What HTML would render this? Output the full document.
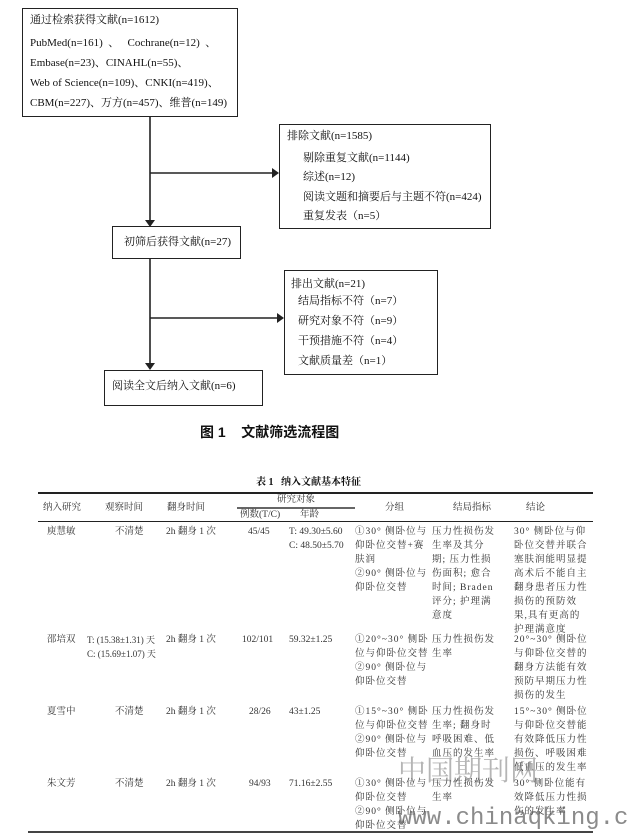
<!DOCTYPE html>
<html><head><meta charset="utf-8"><style>
body{margin:0;width:629px;height:835px;background:#fff;position:relative;overflow:hidden;font-family:"Liberation Serif","Noto Serif CJK SC","Noto Sans CJK SC",serif;color:#111}
.b{position:absolute;border:1px solid #222;box-sizing:border-box}
.t{position:absolute;white-space:nowrap;font-size:11px;line-height:14px}
.s{position:absolute;white-space:nowrap;font-size:9.5px;line-height:14px;color:#333}
.w{letter-spacing:1px}
.hl{position:absolute;background:#222}
</style></head><body>
<div class="b" style="left:22px;top:8px;width:216px;height:109px"></div>
<div class="t" style="left:30px;top:13px">通过检索获得文献(n=1612)</div>
<div class="t" style="left:30px;top:36px">PubMed(n=161)&nbsp;&nbsp;、&nbsp;&nbsp;&nbsp;Cochrane(n=12)&nbsp;&nbsp;、</div>
<div class="t" style="left:30px;top:56px">Embase(n=23)、CINAHL(n=55)、</div>
<div class="t" style="left:30px;top:76px">Web of Science(n=109)、CNKI(n=419)、</div>
<div class="t" style="left:30px;top:96px">CBM(n=227)、万方(n=457)、维普(n=149)</div>
<div class="b" style="left:279px;top:124px;width:212px;height:105px"></div>
<div class="t" style="left:287px;top:129px">排除文献(n=1585)</div>
<div class="t" style="left:303px;top:151px">剔除重复文献(n=1144)</div>
<div class="t" style="left:303px;top:170px">综述(n=12)</div>
<div class="t" style="left:303px;top:190px">阅读文题和摘要后与主题不符(n=424)</div>
<div class="t" style="left:303px;top:209px">重复发表（n=5）</div>
<div class="b" style="left:112px;top:226px;width:129px;height:33px"></div>
<div class="t" style="left:124px;top:235px">初筛后获得文献(n=27)</div>
<div class="b" style="left:284px;top:270px;width:154px;height:105px"></div>
<div class="t" style="left:291px;top:277px">排出文献(n=21)</div>
<div class="t" style="left:298px;top:294px">结局指标不符（n=7）</div>
<div class="t" style="left:298px;top:314px">研究对象不符（n=9）</div>
<div class="t" style="left:298px;top:334px">干预措施不符（n=4）</div>
<div class="t" style="left:298px;top:354px">文献质量差（n=1）</div>
<div class="b" style="left:104px;top:370px;width:159px;height:36px"></div>
<div class="t" style="left:112px;top:379px">阅读全文后纳入文献(n=6)</div>
<svg style="position:absolute;left:0;top:0" width="629" height="420">
<g stroke="#222" stroke-width="1.6" fill="none">
<line x1="150" y1="117" x2="150" y2="222"/><line x1="150" y1="173" x2="273" y2="173"/>
<line x1="150" y1="259" x2="150" y2="365"/><line x1="150" y1="318" x2="278" y2="318"/>
</g>
<g fill="#222"><polygon points="145,220 155,220 150,227"/><polygon points="272,168 272,178 279,173"/>
<polygon points="145,363 155,363 150,370"/><polygon points="277,313 277,323 284,318"/></g>
</svg>
<div class="t" style="left:200px;top:425px;font-size:14px;font-weight:bold;font-family:'Liberation Sans','Noto Sans CJK SC',sans-serif">图 1&nbsp;&nbsp;&nbsp;&nbsp;文献筛选流程图</div>
<div class="t" style="left:256px;top:476px;font-size:10px;font-weight:bold">表 1&nbsp;&nbsp;&nbsp;纳入文献基本特征</div>
<div class="hl" style="left:38px;top:492px;width:555px;height:2px"></div>
<div class="hl" style="left:237px;top:507px;width:118px;height:1.5px;background:#666"></div>
<div class="hl" style="left:38px;top:521px;width:555px;height:1px"></div>
<div class="hl" style="left:28px;top:831px;width:565px;height:1.5px;background:#444"></div>
<div class="s" style="left:43px;top:501px">纳入研究</div>
<div class="s" style="left:105px;top:501px">观察时间</div>
<div class="s" style="left:167px;top:501px">翻身时间</div>
<div class="s" style="left:277px;top:493px">研究对象</div>
<div class="s" style="left:240px;top:508px">例数(T/C)</div>
<div class="s" style="left:300px;top:508px">年龄</div>
<div class="s" style="left:385px;top:501px">分组</div>
<div class="s" style="left:453px;top:501px">结局指标</div>
<div class="s" style="left:526px;top:501px">结论</div>
<!-- row1 -->
<div class="s" style="left:47px;top:525px">庾慧敏</div>
<div class="s" style="left:115px;top:525px">不清楚</div>
<div class="s" style="left:166px;top:525px">2h 翻身 1 次</div>
<div class="s" style="left:248px;top:525px">45/45</div>
<div class="s" style="left:289px;top:525px">T: 49.30±5.60<br>C: 48.50±5.70</div>
<div class="s w" style="left:355px;top:525px">①30° 侧卧位与<br>仰卧位交替+赛<br>肤润<br>②90° 侧卧位与<br>仰卧位交替</div>
<div class="s w" style="left:432px;top:525px">压力性损伤发<br>生率及其分<br>期; 压力性损<br>伤面积; 愈合<br>时间; Braden<br>评分; 护理满<br>意度</div>
<div class="s w" style="left:514px;top:525px">30° 侧卧位与仰<br>卧位交替并联合<br>塞肤润能明显提<br>高术后不能自主<br>翻身患者压力性<br>损伤的预防效<br>果,具有更高的<br>护理满意度</div>
<!-- row2 -->
<div class="s" style="left:47px;top:633px">邵培双</div>
<div class="s" style="left:87px;top:633px;font-size:9px">T: (15.38±1.31) 天<br>C: (15.69±1.07) 天</div>
<div class="s" style="left:166px;top:633px">2h 翻身 1 次</div>
<div class="s" style="left:242px;top:633px">102/101</div>
<div class="s" style="left:289px;top:633px">59.32±1.25</div>
<div class="s w" style="left:355px;top:633px">①20°~30° 侧卧<br>位与仰卧位交替<br>②90° 侧卧位与<br>仰卧位交替</div>
<div class="s w" style="left:432px;top:633px">压力性损伤发<br>生率</div>
<div class="s w" style="left:514px;top:633px">20°~30° 侧卧位<br>与仰卧位交替的<br>翻身方法能有效<br>预防早期压力性<br>损伤的发生</div>
<!-- row3 -->
<div class="s" style="left:47px;top:705px">夏雪中</div>
<div class="s" style="left:115px;top:705px">不清楚</div>
<div class="s" style="left:166px;top:705px">2h 翻身 1 次</div>
<div class="s" style="left:249px;top:705px">28/26</div>
<div class="s" style="left:289px;top:705px">43±1.25</div>
<div class="s w" style="left:355px;top:705px">①15°~30° 侧卧<br>位与仰卧位交替<br>②90° 侧卧位与<br>仰卧位交替</div>
<div class="s w" style="left:432px;top:705px">压力性损伤发<br>生率; 翻身时<br>呼吸困难、低<br>血压的发生率</div>
<div class="s w" style="left:514px;top:705px">15°~30° 侧卧位<br>与仰卧位交替能<br>有效降低压力性<br>损伤、呼吸困难<br>低血压的发生率</div>
<!-- row4 -->
<div class="s" style="left:47px;top:777px">朱文芳</div>
<div class="s" style="left:115px;top:777px">不清楚</div>
<div class="s" style="left:166px;top:777px">2h 翻身 1 次</div>
<div class="s" style="left:249px;top:777px">94/93</div>
<div class="s" style="left:289px;top:777px">71.16±2.55</div>
<div class="s w" style="left:355px;top:777px">①30° 侧卧位与<br>仰卧位交替<br>②90° 侧卧位与<br>仰卧位交替</div>
<div class="s w" style="left:432px;top:777px">压力性损伤发<br>生率</div>
<div class="s w" style="left:514px;top:777px">30° 侧卧位能有<br>效降低压力性损<br>伤的发生率</div>
<div class="t" style="left:398px;top:752px;font-size:28px;line-height:34px;color:rgba(120,120,120,0.55);font-family:'Noto Serif CJK SC',serif">中国期刊网</div>
<div class="t" style="left:398px;top:805px;font-size:24px;line-height:28px;color:rgba(90,90,90,0.7);font-family:'Liberation Mono',monospace">www.chinaqking.com</div>
</body></html>
